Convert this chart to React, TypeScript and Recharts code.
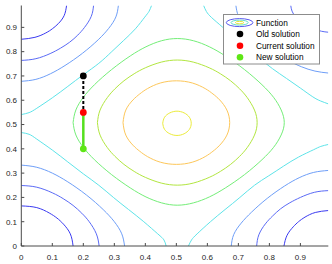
import React from 'react';
import { ComposedChart, Line, Scatter, XAxis, YAxis } from 'recharts';

type Pt = [number, number];

const TICKS = [0, 0.1, 0.2, 0.3, 0.4, 0.5, 0.6, 0.7, 0.8, 0.9];
const TICK_LABELS = ['0', '0.1', '0.2', '0.3', '0.4', '0.5', '0.6', '0.7', '0.8', '0.9'];

// contour lines, corner by corner
const BL_DARK: Pt[] = [[0.167, 0], [0.158, 0.05], [0.136, 0.09], [0.115, 0.115], [0.09, 0.136], [0.05, 0.158], [0, 0.165]];
const BL_BLUE: Pt[] = [[0.251, 0], [0.242, 0.05], [0.219, 0.1], [0.195, 0.135], [0.167, 0.167], [0.135, 0.195], [0.1, 0.219], [0.05, 0.242], [0, 0.249]];
const BL_LIGHT: Pt[] = [[0.333, 0], [0.324, 0.05], [0.3, 0.1], [0.264, 0.15], [0.21, 0.21], [0.15, 0.264], [0.1, 0.3], [0.05, 0.324], [0, 0.333]];
const BL_CYAN: Pt[] = [[0.467, 0], [0.46, 0.025], [0.44, 0.05], [0.395, 0.1], [0.346, 0.15], [0.297, 0.2], [0.25, 0.25], [0.2, 0.297], [0.15, 0.346], [0.1, 0.395], [0.05, 0.44], [0.025, 0.46], [0, 0.467]];

const TL_DARK: Pt[] = [[0, 0.851], [0.044, 0.859], [0.079, 0.877], [0.1, 0.894], [0.119, 0.915], [0.138, 0.948], [0.146, 0.99]];
const TL_BLUE: Pt[] = [[0, 0.764], [0.047, 0.771], [0.093, 0.792], [0.126, 0.814], [0.156, 0.839], [0.182, 0.868], [0.204, 0.9], [0.2255, 0.945], [0.233, 0.99]];
const TL_LIGHT: Pt[] = [[0, 0.678], [0.047, 0.686], [0.094, 0.709], [0.141, 0.743], [0.197, 0.793], [0.248, 0.849], [0.282, 0.896], [0.305, 0.943], [0.313, 0.99]];
const TL_CYAN: Pt[] = [[0, 0.541], [0.025, 0.549], [0.05, 0.567], [0.1, 0.61], [0.15, 0.657], [0.2, 0.705], [0.25, 0.752], [0.29, 0.798], [0.33, 0.846], [0.368, 0.894], [0.398, 0.942], [0.412, 0.966], [0.42, 0.99]];

const BR_DARK: Pt[] = [[0.99, 0.146], [0.948, 0.138], [0.915, 0.119], [0.894, 0.1], [0.877, 0.079], [0.857, 0.044], [0.847, 0]];
const BR_BLUE: Pt[] = [[0.99, 0.228], [0.945, 0.221], [0.9, 0.2], [0.866, 0.178], [0.836, 0.153], [0.81, 0.123], [0.787, 0.091], [0.766, 0.046], [0.759, 0]];
const BR_LIGHT: Pt[] = [[0.99, 0.311], [0.943, 0.303], [0.896, 0.281], [0.849, 0.247], [0.793, 0.196], [0.743, 0.14], [0.709, 0.094], [0.685, 0.047], [0.677, 0]];
const BR_CYAN: Pt[] = [[0.99, 0.418], [0.966, 0.41], [0.942, 0.396], [0.894, 0.366], [0.846, 0.329], [0.798, 0.289], [0.752, 0.25], [0.705, 0.2], [0.657, 0.15], [0.61, 0.1], [0.567, 0.05], [0.549, 0.025], [0.539, 0]];

const TR_CYAN: Pt[] = [[0.588, 0.99], [0.597, 0.965], [0.614, 0.94], [0.65, 0.9], [0.69, 0.855], [0.73, 0.81], [0.77, 0.77], [0.81, 0.73], [0.855, 0.69], [0.9, 0.65], [0.94, 0.614], [0.965, 0.597], [0.99, 0.585]];
const TR_LIGHT: Pt[] = [[0.692, 0.99], [0.7, 0.947], [0.722, 0.903], [0.755, 0.862], [0.805, 0.81], [0.86, 0.765], [0.903, 0.738], [0.947, 0.72], [0.99, 0.712]];
const TR_BLUE: Pt[] = [[0.869, 0.99], [0.873, 0.967], [0.884, 0.944], [0.897, 0.93], [0.912, 0.915], [0.928, 0.903], [0.946, 0.893], [0.968, 0.884], [0.99, 0.88]];

// closed rings round the peak
const GREEN_RING: Pt[] = [
  [0.167, 0.508], [0.176, 0.457], [0.2, 0.406], [0.236, 0.355], [0.291, 0.294], [0.3515, 0.239], [0.402, 0.202], [0.4525, 0.1775], [0.503, 0.168],
  [0.555, 0.1775], [0.6065, 0.202], [0.658, 0.239], [0.72, 0.294], [0.776, 0.355], [0.8135, 0.406], [0.838, 0.457], [0.848, 0.508],
  [0.838, 0.56], [0.8135, 0.612], [0.776, 0.664], [0.72, 0.726], [0.658, 0.7825], [0.6065, 0.82], [0.555, 0.845], [0.503, 0.854],
  [0.4525, 0.845], [0.402, 0.82], [0.3515, 0.7825], [0.291, 0.726], [0.236, 0.664], [0.2, 0.612], [0.176, 0.56], [0.167, 0.508],
];
const LIME_RING: Pt[] = [
  [0.2455, 0.508], [0.254, 0.4565], [0.2775, 0.405], [0.302, 0.369], [0.331, 0.336], [0.364, 0.307], [0.4, 0.2825], [0.4515, 0.259], [0.503, 0.2505],
  [0.5545, 0.259], [0.606, 0.2825], [0.642, 0.307], [0.675, 0.336], [0.704, 0.369], [0.7285, 0.405], [0.752, 0.4565], [0.7605, 0.508],
  [0.752, 0.5595], [0.7285, 0.611], [0.704, 0.647], [0.675, 0.68], [0.642, 0.709], [0.606, 0.7335], [0.5545, 0.757], [0.503, 0.7655],
  [0.4515, 0.757], [0.4, 0.7335], [0.364, 0.709], [0.331, 0.68], [0.302, 0.647], [0.2775, 0.611], [0.254, 0.5595], [0.2455, 0.508],
];
const ORANGE_RING: Pt[] = [
  [0.328, 0.508], [0.337, 0.4565], [0.36, 0.415], [0.382, 0.39], [0.407, 0.368], [0.4485, 0.345], [0.5, 0.336],
  [0.5515, 0.345], [0.593, 0.368], [0.618, 0.39], [0.64, 0.415], [0.663, 0.4565], [0.672, 0.508],
  [0.663, 0.5595], [0.64, 0.601], [0.618, 0.626], [0.593, 0.648], [0.5515, 0.671], [0.5, 0.68],
  [0.4485, 0.671], [0.407, 0.648], [0.382, 0.626], [0.36, 0.601], [0.337, 0.5595], [0.328, 0.508],
];
const YELLOW_RING: Pt[] = [
  [0.456, 0.505], [0.462, 0.48], [0.479, 0.462], [0.502, 0.455], [0.525, 0.462], [0.542, 0.48], [0.548, 0.505],
  [0.542, 0.53], [0.525, 0.548], [0.502, 0.555], [0.479, 0.548], [0.462, 0.53], [0.456, 0.505],
];

const OLD_SOLUTION: Pt[] = [[0.2, 0.7]];
const CURRENT_SOLUTION: Pt[] = [[0.2, 0.55]];
const NEW_SOLUTION: Pt[] = [[0.2, 0.4]];

const DARK = '#3a3af0';
const BLUE = '#5a6af5';
const LIGHT = '#6e9ef7';
const CYAN = '#5ee3e8';
const GREEN = '#74ee78';
const LIME = '#b2e640';
const ORANGE = '#fdc75a';
const YELLOW = '#ecec3a';
const AXIS = '#4a4a4a';
const FONT = 'Liberation Sans, Arial, sans-serif';

const contours: { pts: Pt[]; color: string }[] = [
  { pts: BL_DARK, color: DARK }, { pts: BL_BLUE, color: BLUE }, { pts: BL_LIGHT, color: LIGHT }, { pts: BL_CYAN, color: CYAN },
  { pts: TL_DARK, color: DARK }, { pts: TL_BLUE, color: BLUE }, { pts: TL_LIGHT, color: LIGHT }, { pts: TL_CYAN, color: CYAN },
  { pts: BR_DARK, color: DARK }, { pts: BR_BLUE, color: BLUE }, { pts: BR_LIGHT, color: LIGHT }, { pts: BR_CYAN, color: CYAN },
  { pts: TR_BLUE, color: BLUE }, { pts: TR_LIGHT, color: LIGHT }, { pts: TR_CYAN, color: CYAN },
  { pts: GREEN_RING, color: GREEN }, { pts: LIME_RING, color: LIME }, { pts: ORANGE_RING, color: ORANGE }, { pts: YELLOW_RING, color: YELLOW },
];

const rows = (pts: Pt[]) => pts.map(([x, y]) => ({ x, y }));

const dot = (fill: string) => (p: any) => <circle cx={p.cx} cy={p.cy} r={3.4} fill={fill} />;

export default function App() {
  const tick = { fontSize: 8, fill: '#262626', fontFamily: FONT };
  return (
    <div style={{ position: 'fixed', left: 0, top: 0, width: 332, height: 264, background: '#fff' }}>
      <ComposedChart width={332} height={264} margin={{ top: 5.5, right: 3.7, bottom: 0, left: 0 }}>
        <XAxis xAxisId="b" type="number" dataKey="x" domain={[0, 0.99]} ticks={TICKS} interval={0} allowDataOverflow
          tickSize={-3} tickMargin={11} height={18} stroke={AXIS} tick={tick}
          tickFormatter={(v: number, i: number) => TICK_LABELS[i]} />
        <XAxis xAxisId="t" orientation="top" type="number" dataKey="x" domain={[0, 0.99]} ticks={TICKS} interval={0}
          allowDataOverflow tickSize={-3} height={0} stroke={AXIS} tick={false} />
        <YAxis yAxisId="l" type="number" dataKey="y" domain={[0, 0.99]} ticks={TICKS} interval={0} allowDataOverflow
          tickSize={-3} tickMargin={7.3} width={21.3} stroke={AXIS} tick={tick}
          tickFormatter={(v: number, i: number) => TICK_LABELS[i]} />
        <YAxis yAxisId="r" orientation="right" type="number" dataKey="y" domain={[0, 0.99]} ticks={TICKS} interval={0}
          allowDataOverflow tickSize={-3} width={0} stroke={AXIS} tick={false} />
        {contours.map((c, i) => (
          <Line key={i} xAxisId="b" yAxisId="l" data={rows(c.pts)} dataKey="y" type="natural" stroke={c.color}
            strokeWidth={1} dot={false} activeDot={false} isAnimationActive={false} />
        ))}
        <Line xAxisId="b" yAxisId="l" data={rows([...OLD_SOLUTION, ...CURRENT_SOLUTION])} dataKey="y" type="linear"
          stroke="#000" strokeWidth={2} strokeDasharray="3 2" dot={false} activeDot={false} isAnimationActive={false} />
        <Line xAxisId="b" yAxisId="l" data={rows([...CURRENT_SOLUTION, ...NEW_SOLUTION])} dataKey="y" type="linear"
          stroke="#55e01e" strokeWidth={2.5} dot={false} activeDot={false} isAnimationActive={false} />
        <Scatter xAxisId="b" yAxisId="l" data={rows(OLD_SOLUTION)} dataKey="y" shape={dot('#000')} isAnimationActive={false} />
        <Scatter xAxisId="b" yAxisId="l" data={rows(CURRENT_SOLUTION)} dataKey="y" shape={dot('#ff0000')} isAnimationActive={false} />
        <Scatter xAxisId="b" yAxisId="l" data={rows(NEW_SOLUTION)} dataKey="y" shape={dot('#5ee615')} isAnimationActive={false} />
      </ComposedChart>
      <svg width={332} height={264} style={{ position: 'absolute', left: 0, top: 0, pointerEvents: 'none' }}>
        <rect x={223.5} y={14.5} width={96} height={49.5} fill="#fff" stroke="#8c8c8c" strokeWidth={1} />
        <ellipse cx={239.6} cy={22.6} rx={13.3} ry={4} fill="none" stroke="#5a5af0" strokeWidth={1} />
        <ellipse cx={239.6} cy={22.6} rx={8.6} ry={2.5} fill="none" stroke="#62dcc8" strokeWidth={1} />
        <ellipse cx={239.6} cy={22.6} rx={4.2} ry={1.2} fill="none" stroke="#e6e63a" strokeWidth={1} />
        <circle cx={240} cy={34} r={3.3} fill="#000" />
        <circle cx={240} cy={45.7} r={3.3} fill="#ff0000" />
        <circle cx={240} cy={57.3} r={3.3} fill="#5ee615" />
        <g fontFamily={FONT} fontSize={8.3} fill="#000">
          <text x={256} y={22.7} dominantBaseline="central">Function</text>
          <text x={256} y={34} dominantBaseline="central">Old solution</text>
          <text x={256} y={45.7} dominantBaseline="central">Current solution</text>
          <text x={256} y={57.3} dominantBaseline="central">New solution</text>
        </g>
      </svg>
    </div>
  );
}
